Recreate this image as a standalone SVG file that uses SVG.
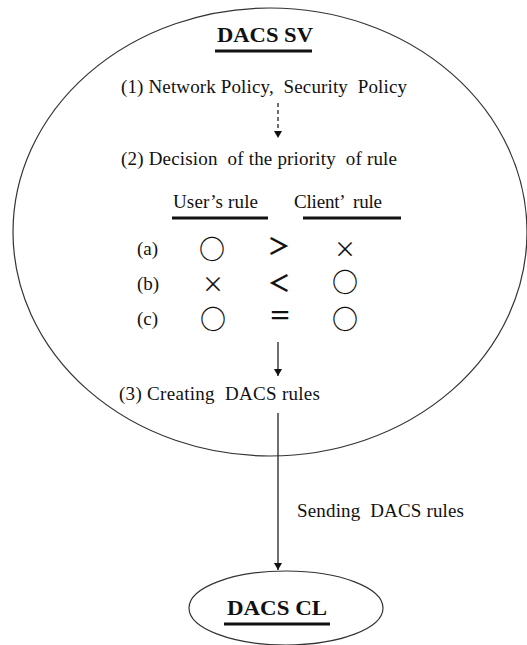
<svg xmlns="http://www.w3.org/2000/svg" width="527" height="645" viewBox="0 0 527 645">
<defs>
<style>
.t{font-family:"Liberation Serif","Times New Roman",serif;font-size:19px;fill:#111}
.b{font-family:"Liberation Serif","Times New Roman",serif;font-size:21px;font-weight:bold;fill:#111}
.s{font-family:"Noto Sans CJK JP","DejaVu Sans",sans-serif;fill:#111;text-anchor:middle}
.o{font-size:26px;font-weight:bold}
.r{font-size:23px;font-weight:bold}
.x{font-size:22px}
.ul{stroke:#111;stroke-width:3}
.ln{stroke:#222;stroke-width:1.3;fill:none}
.el{fill:none;stroke:#333;stroke-width:1.2}
</style>
<marker id="ah" markerWidth="8" markerHeight="8" refX="7" refY="4" orient="auto" markerUnits="userSpaceOnUse">
<path d="M0,0 L7,4 L0,8 Z" fill="#111"/>
</marker>
</defs>
<g id="sv">
<ellipse class="el" cx="270" cy="232" rx="257" ry="224"/>
<text class="b" x="217" y="42" textLength="96" lengthAdjust="spacingAndGlyphs">DACS SV</text>
<line class="ul" x1="215" y1="51" x2="312" y2="51"/>
<text class="t" x="121" y="93" textLength="286" xml:space="preserve">(1) Network Policy,  Security  Policy</text>
<text class="t" x="121" y="165" textLength="276" xml:space="preserve">(2) Decision  of the priority  of rule</text>
<text class="t" x="173" y="208" textLength="85">User’s rule</text>
<line class="ul" x1="172" y1="218" x2="268" y2="218"/>
<text class="t" x="294" y="208" textLength="88" xml:space="preserve">Client’  rule</text>
<line class="ul" x1="303" y1="218" x2="401" y2="218"/>
<text class="t" x="137" y="255">(a)</text>
<text class="t" x="137" y="290">(b)</text>
<text class="t" x="137" y="325">(c)</text>
<text class="s o" x="212" y="259">○</text>
<text class="s r" x="279" y="254">＞</text>
<text class="s x" x="345" y="257">×</text>
<text class="s x" x="213" y="292">×</text>
<text class="s r" x="279" y="291">＜</text>
<text class="s o" x="345" y="292">○</text>
<text class="s o" x="213" y="329">○</text>
<text class="s r" x="280" y="324">＝</text>
<text class="s o" x="345" y="329">○</text>
<text class="t" x="119" y="400" textLength="201" xml:space="preserve">(3) Creating  DACS rules</text>
</g>
<g id="cl">
<ellipse class="el" cx="286" cy="608" rx="97" ry="37"/>
<text class="b" x="227" y="615" textLength="100" lengthAdjust="spacingAndGlyphs">DACS CL</text>
<line class="ul" x1="224" y1="624" x2="330" y2="624"/>
</g>
<g id="connectors">
<line class="ln" x1="278" y1="103" x2="278" y2="138" stroke-dasharray="4,3" marker-end="url(#ah)"/>
<line class="ln" x1="278" y1="342" x2="278" y2="376" marker-end="url(#ah)"/>
<line class="ln" x1="278" y1="413" x2="278" y2="570" marker-end="url(#ah)"/>
<text class="t" x="297" y="517" textLength="167" xml:space="preserve">Sending  DACS rules</text>
</g>
</svg>
